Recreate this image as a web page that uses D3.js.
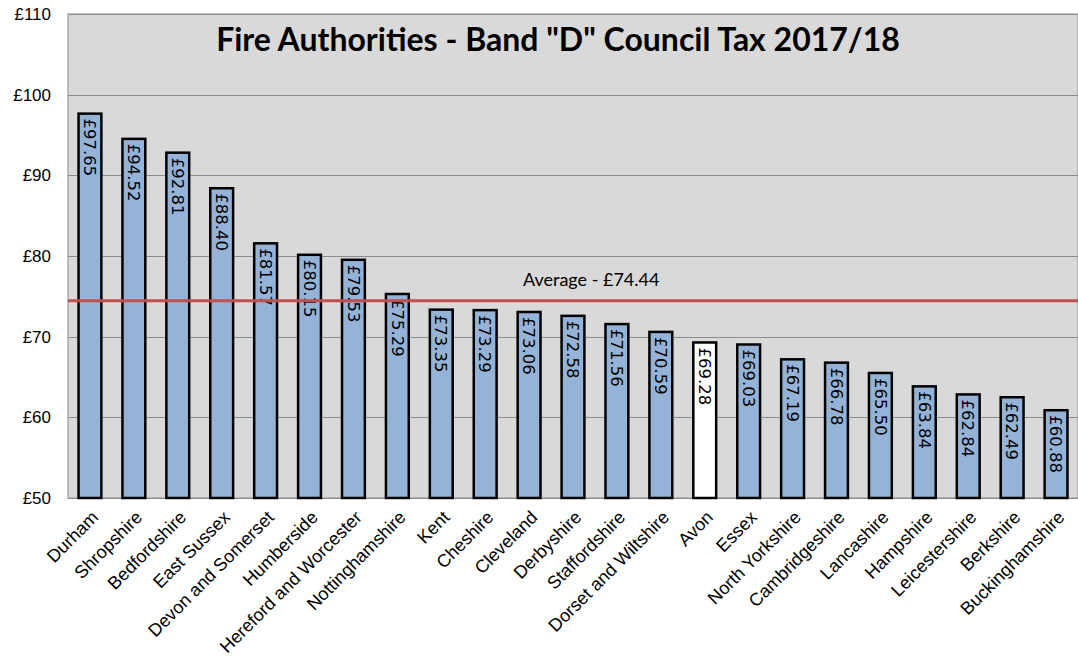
<!DOCTYPE html>
<html>
<head>
<meta charset="utf-8">
<script src="https://cdn.jsdelivr.net/npm/d3@7"></script>
<style>
  body { margin: 0; background: #fff; }
  svg { display: block; }
</style>
</head>
<body>
<div id="chart"></div>
<script>
"use strict";

// data
var authorities = ["Durham", "Shropshire", "Bedfordshire", "East Sussex", "Devon and Somerset",
    "Humberside", "Hereford and Worcester", "Nottinghamshire", "Kent", "Cheshire", "Cleveland",
    "Derbyshire", "Staffordshire", "Dorset and Wiltshire", "Avon", "Essex", "North Yorkshire",
    "Cambridgeshire", "Lancashire", "Hampshire", "Leicestershire", "Berkshire", "Buckinghamshire"];
var bandD = [97.65, 94.52, 92.81, 88.40, 81.57, 80.15, 79.53, 75.29, 73.35, 73.29, 73.06,
    72.58, 71.56, 70.59, 69.28, 69.03, 67.19, 66.78, 65.50, 63.84, 62.84, 62.49, 60.88];
var highlighted = ["Avon"];
var average = 74.44;
var yTicks = [50, 60, 70, 80, 90, 100, 110];

var width = 1078, height = 668;
var margin = { top: 14, left: 68, right: 0, bottom: 170 };
var plotW = width - margin.left - margin.right;
var plotH = height - margin.top - margin.bottom;

var svg = d3.select('#chart').append('svg')
    .attr('width', width)
    .attr('height', height);

var g = svg.append('g')
    .attr('transform', 'translate(' + margin.left + ',' + margin.top + ')');

var xScale = d3.scaleBand()
    .domain(authorities)
    .range([0, plotW])
    .paddingInner(0.48)
    .paddingOuter(0.24);

var yScale = d3.scaleLinear()
    .domain([50, 110])
    .range([plotH, 0]);

var fmt = function (v) { return '£' + d3.format('.2f')(v); };

// plot background
g.append('rect')
    .attr('width', plotW)
    .attr('height', plotH)
    .attr('fill', '#d9d9d9')
    .attr('stroke', '#8c8c8c')
    .attr('stroke-width', 1);

// gridlines
g.selectAll('.grid')
    .data(yTicks)
    .enter()
    .append('line')
    .attr('x1', 0)
    .attr('x2', plotW)
    .attr('y1', function (d) { return Math.round(yScale(d)) + 0.5; })
    .attr('y2', function (d) { return Math.round(yScale(d)) + 0.5; })
    .attr('stroke', '#8c8c8c')
    .attr('stroke-width', 1);

// y axis labels
var yAxis = d3.axisLeft(yScale)
    .tickValues(yTicks)
    .tickSize(0)
    .tickPadding(17)
    .tickFormat(function (d) { return '£' + d; });

g.append('g')
    .call(yAxis)
    .call(function (s) { s.select('.domain').remove(); })
    .selectAll('text')
    .attr('font-family', 'Liberation Sans, Arial, sans-serif')
    .attr('font-size', '17px')
    .attr('fill', '#000');

// bars
g.selectAll('.bar')
    .data(authorities)
    .enter()
    .append('rect')
    .attr('class', 'bar')
    .attr('x', function (d) { return xScale(d); })
    .attr('width', xScale.bandwidth())
    .attr('y', function (d, i) { return yScale(bandD[i]); })
    .attr('height', function (d, i) { return plotH - yScale(bandD[i]); })
    .attr('fill', function (d) { return highlighted.indexOf(d) >= 0 ? '#ffffff' : '#95b3d7'; })
    .attr('stroke', '#000')
    .attr('stroke-width', 2.5);

// value labels, rotated inside the bars
g.selectAll('.val')
    .data(authorities)
    .enter()
    .append('text')
    .attr('transform', function (d, i) {
        var cx = xScale(d) + xScale.bandwidth() / 2;
        var ty = yScale(bandD[i]) + 5;
        return 'translate(' + cx + ',' + ty + ') rotate(90)';
    })
    .attr('dy', '0.35em')
    .attr('font-family', 'DejaVu Sans, Verdana, sans-serif')
    .attr('font-size', '16.5px')
    .attr('fill', '#000')
    .text(function (d, i) { return fmt(bandD[i]); });

// average line
g.append('line')
    .attr('x1', 0)
    .attr('x2', plotW)
    .attr('y1', yScale(average))
    .attr('y2', yScale(average))
    .attr('stroke', '#c0504d')
    .attr('stroke-width', 3);

g.append('text')
    .attr('x', 523 - margin.left)
    .attr('y', yScale(average) - 15)
    .attr('text-anchor', 'start')
    .attr('font-family', 'Lato, Open Sans, sans-serif')
    .attr('font-size', '18px')
    .attr('fill', '#000')
    .text('Average - ' + fmt(average));

// category labels
g.selectAll('.cat')
    .data(authorities)
    .enter()
    .append('text')
    .attr('transform', function (d) {
        var cx = xScale(d) + xScale.bandwidth() / 2 + 5;
        return 'translate(' + cx + ',' + (plotH + 16) + ') rotate(-45)';
    })
    .attr('text-anchor', 'end')
    .attr('dy', '0.35em')
    .attr('font-family', 'Liberation Sans, Arial, sans-serif')
    .attr('font-size', '18px')
    .attr('fill', '#000')
    .text(function (d) { return d; });

// title
svg.append('text')
    .attr('x', 558)
    .attr('y', 51)
    .attr('text-anchor', 'middle')
    .attr('font-family', 'Lato, Open Sans, sans-serif')
    .attr('font-weight', 'bold')
    .attr('font-size', '32px')
    .attr('fill', '#000')
    .text('Fire Authorities - Band "D" Council Tax 2017/18');
</script>
</body>
</html>
